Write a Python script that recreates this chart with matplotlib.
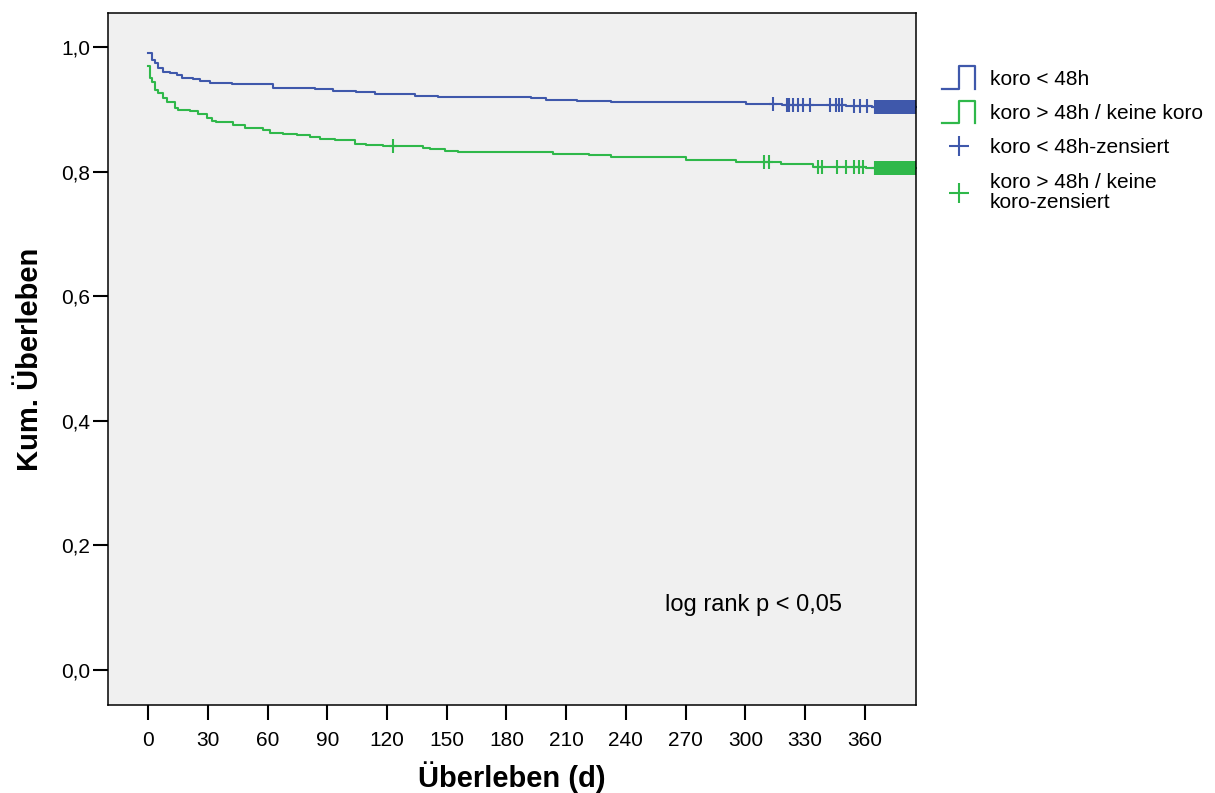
import numpy as np
import matplotlib
matplotlib.use("Agg")
import matplotlib.pyplot as plt
from matplotlib.lines import Line2D
from matplotlib.path import Path
from matplotlib.legend_handler import HandlerBase

plt.rcParams["font.family"] = ["Liberation Sans", "DejaVu Sans"]

# Kaplan-Meier Schätzer, Zeit in Tagen, Überleben nach jedem Schritt
blue_times = [0, 1.7, 3.4, 5.0, 7.5, 10.9, 14.3, 16.8, 22.6, 26.0, 31.0, 36.0, 41.9,
              62.8, 83.7, 92.9, 104.6, 113.8, 133.9, 145.6, 192.5, 200.0, 215.6,
              232.6, 251.9, 300.4, 318.6, 350.6, 363.8]
blue_surv = [0.990, 0.979, 0.974, 0.966, 0.960, 0.958, 0.955, 0.951, 0.949, 0.946, 0.943,
             0.942, 0.940, 0.935, 0.932, 0.929, 0.928, 0.925, 0.922, 0.920, 0.918, 0.915,
             0.914, 0.912, 0.911, 0.9085, 0.907, 0.905, 0.904]
blue_censored = [313.8, 321.0, 322.1, 323.8, 326.3, 328.8, 332.5, 342.6, 345.6, 347.2,
                 348.6, 354.8, 357.6, 360.9, 365, 366, 367, 368, 369, 370, 371, 372,
                 373, 374, 375, 376, 377, 378, 379, 380, 381, 382, 383, 384, 385]

green_times = [0, 0.85, 1.7, 3.4, 5.0, 7.5, 9.2, 13.4, 15.1, 20.9, 25.1, 29.3, 31.8,
               34.3, 42.7, 48.5, 57.7, 61.1, 67.8, 74.5, 81.2, 86.2, 93.7, 103.8,
               109.6, 118.0, 138.1, 141.4, 148.9, 155.6, 203.2, 221.7, 232.6, 270.3,
               295.4, 318.0, 333.8, 360.6]
green_surv = [0.9695, 0.950, 0.944, 0.931, 0.926, 0.918, 0.911, 0.902, 0.899, 0.897,
              0.892, 0.886, 0.881, 0.879, 0.875, 0.870, 0.866, 0.862, 0.860, 0.858,
              0.855, 0.852, 0.850, 0.844, 0.843, 0.841, 0.838, 0.836, 0.833, 0.831,
              0.829, 0.827, 0.823, 0.819, 0.816, 0.812, 0.808, 0.806]
green_censored = [123.0, 309.6, 312.1, 336.3, 338.6, 345.9, 350.6, 354.8, 356.9, 358.9,
                  365, 366, 367, 368, 369, 370, 371, 372, 373, 374, 375, 376, 377, 378,
                  379, 380, 381, 382, 383, 384, 385]

end_time = 385
labels = ["koro < 48h", "koro > 48h / keine koro", "koro < 48h-zensiert",
          "koro > 48h / keine\nkoro-zensiert"]
x_ticks = [0, 30, 60, 90, 120, 150, 180, 210, 240, 270, 300, 330, 360]
y_ticks = [0.0, 0.2, 0.4, 0.6, 0.8, 1.0]

BLUE = "#3f58ab"
GREEN = "#2fb84a"

# Zensierungsmarke: langer senkrechter Strich, kurzer waagrechter
CENSOR_MARK = Path([(-0.27, 0), (0.27, 0), (0, -0.5), (0, 0.5)],
                   [Path.MOVETO, Path.LINETO, Path.MOVETO, Path.LINETO])


class StepHandler(HandlerBase):
    """Legendensymbol in Stufenform wie bei SPSS."""

    def create_artists(self, legend, orig_handle, xdescent, ydescent, width, height,
                       fontsize, trans):
        lo, hi = -0.28 * height, 1.28 * height
        xs = [0, 0.5 * width, 0.5 * width, width, width]
        ys = [lo, lo, hi, hi, lo]
        line = Line2D(np.array(xs) - xdescent, np.array(ys) - ydescent,
                      color=orig_handle.get_color(), lw=1.6, transform=trans)
        return [line]


def surv_at(times, surv, t):
    idx = np.searchsorted(times, t, side="right") - 1
    return np.asarray(surv)[idx]


def draw_curve(ax, times, surv, censored, color):
    xs = list(times) + [end_time]
    ys = list(surv) + [surv[-1]]
    ax.step(xs, ys, where="post", color=color, lw=1.5)
    ax.plot(censored, surv_at(times, surv, censored), linestyle="none",
            marker=CENSOR_MARK, ms=9.5, mew=1.5, color=color)


fig = plt.figure(figsize=(12.15, 7.93), dpi=100)
ax = fig.add_axes([0.0889, 0.111, 0.6646, 0.8726])
ax.set_facecolor("#f0f0f0")

draw_curve(ax, blue_times, blue_surv, blue_censored, BLUE)
draw_curve(ax, green_times, green_surv, green_censored, GREEN)

ax.set_xlim(-20.2, 385.5)
ax.set_ylim(-0.0562, 1.0546)
ax.set_xticks(x_ticks)
ax.set_yticks(y_ticks)
ax.set_yticklabels([f"{v:.1f}".replace(".", ",") for v in y_ticks])
ax.tick_params(axis="both", labelsize=15, length=11, width=1.5, direction="out")
ax.tick_params(axis="y", pad=2)
ax.tick_params(axis="x", pad=8)
for sp in ax.spines.values():
    sp.set_linewidth(1.1)

ax.set_xlabel("Überleben (d)", fontsize=21, fontweight="bold", labelpad=8)
ax.set_ylabel("Kum. Überleben", fontsize=21, fontweight="bold", labelpad=12)

ax.text(259.4, 0.104, "log rank p < 0,05", fontsize=17, va="center", ha="left")

handles = [
    Line2D([], [], color=BLUE),
    Line2D([], [], color=GREEN),
    Line2D([], [], color=BLUE, marker="+", ms=14, mew=1.5, linestyle="none"),
    Line2D([], [], color=GREEN, marker="+", ms=14, mew=1.5, linestyle="none"),
]
leg = fig.legend(handles, labels, loc="upper left", bbox_to_anchor=(942 / 1215, 1 - 70 / 793),
                 frameon=False, fontsize=15, handlelength=1.6, handletextpad=0.7,
                 labelspacing=0.73, borderpad=0, borderaxespad=0,
                 handler_map={handles[0]: StepHandler(), handles[1]: StepHandler()})
for t in leg.get_texts():
    t.set_linespacing(1.1)

fig.savefig("out.png", dpi=100)
